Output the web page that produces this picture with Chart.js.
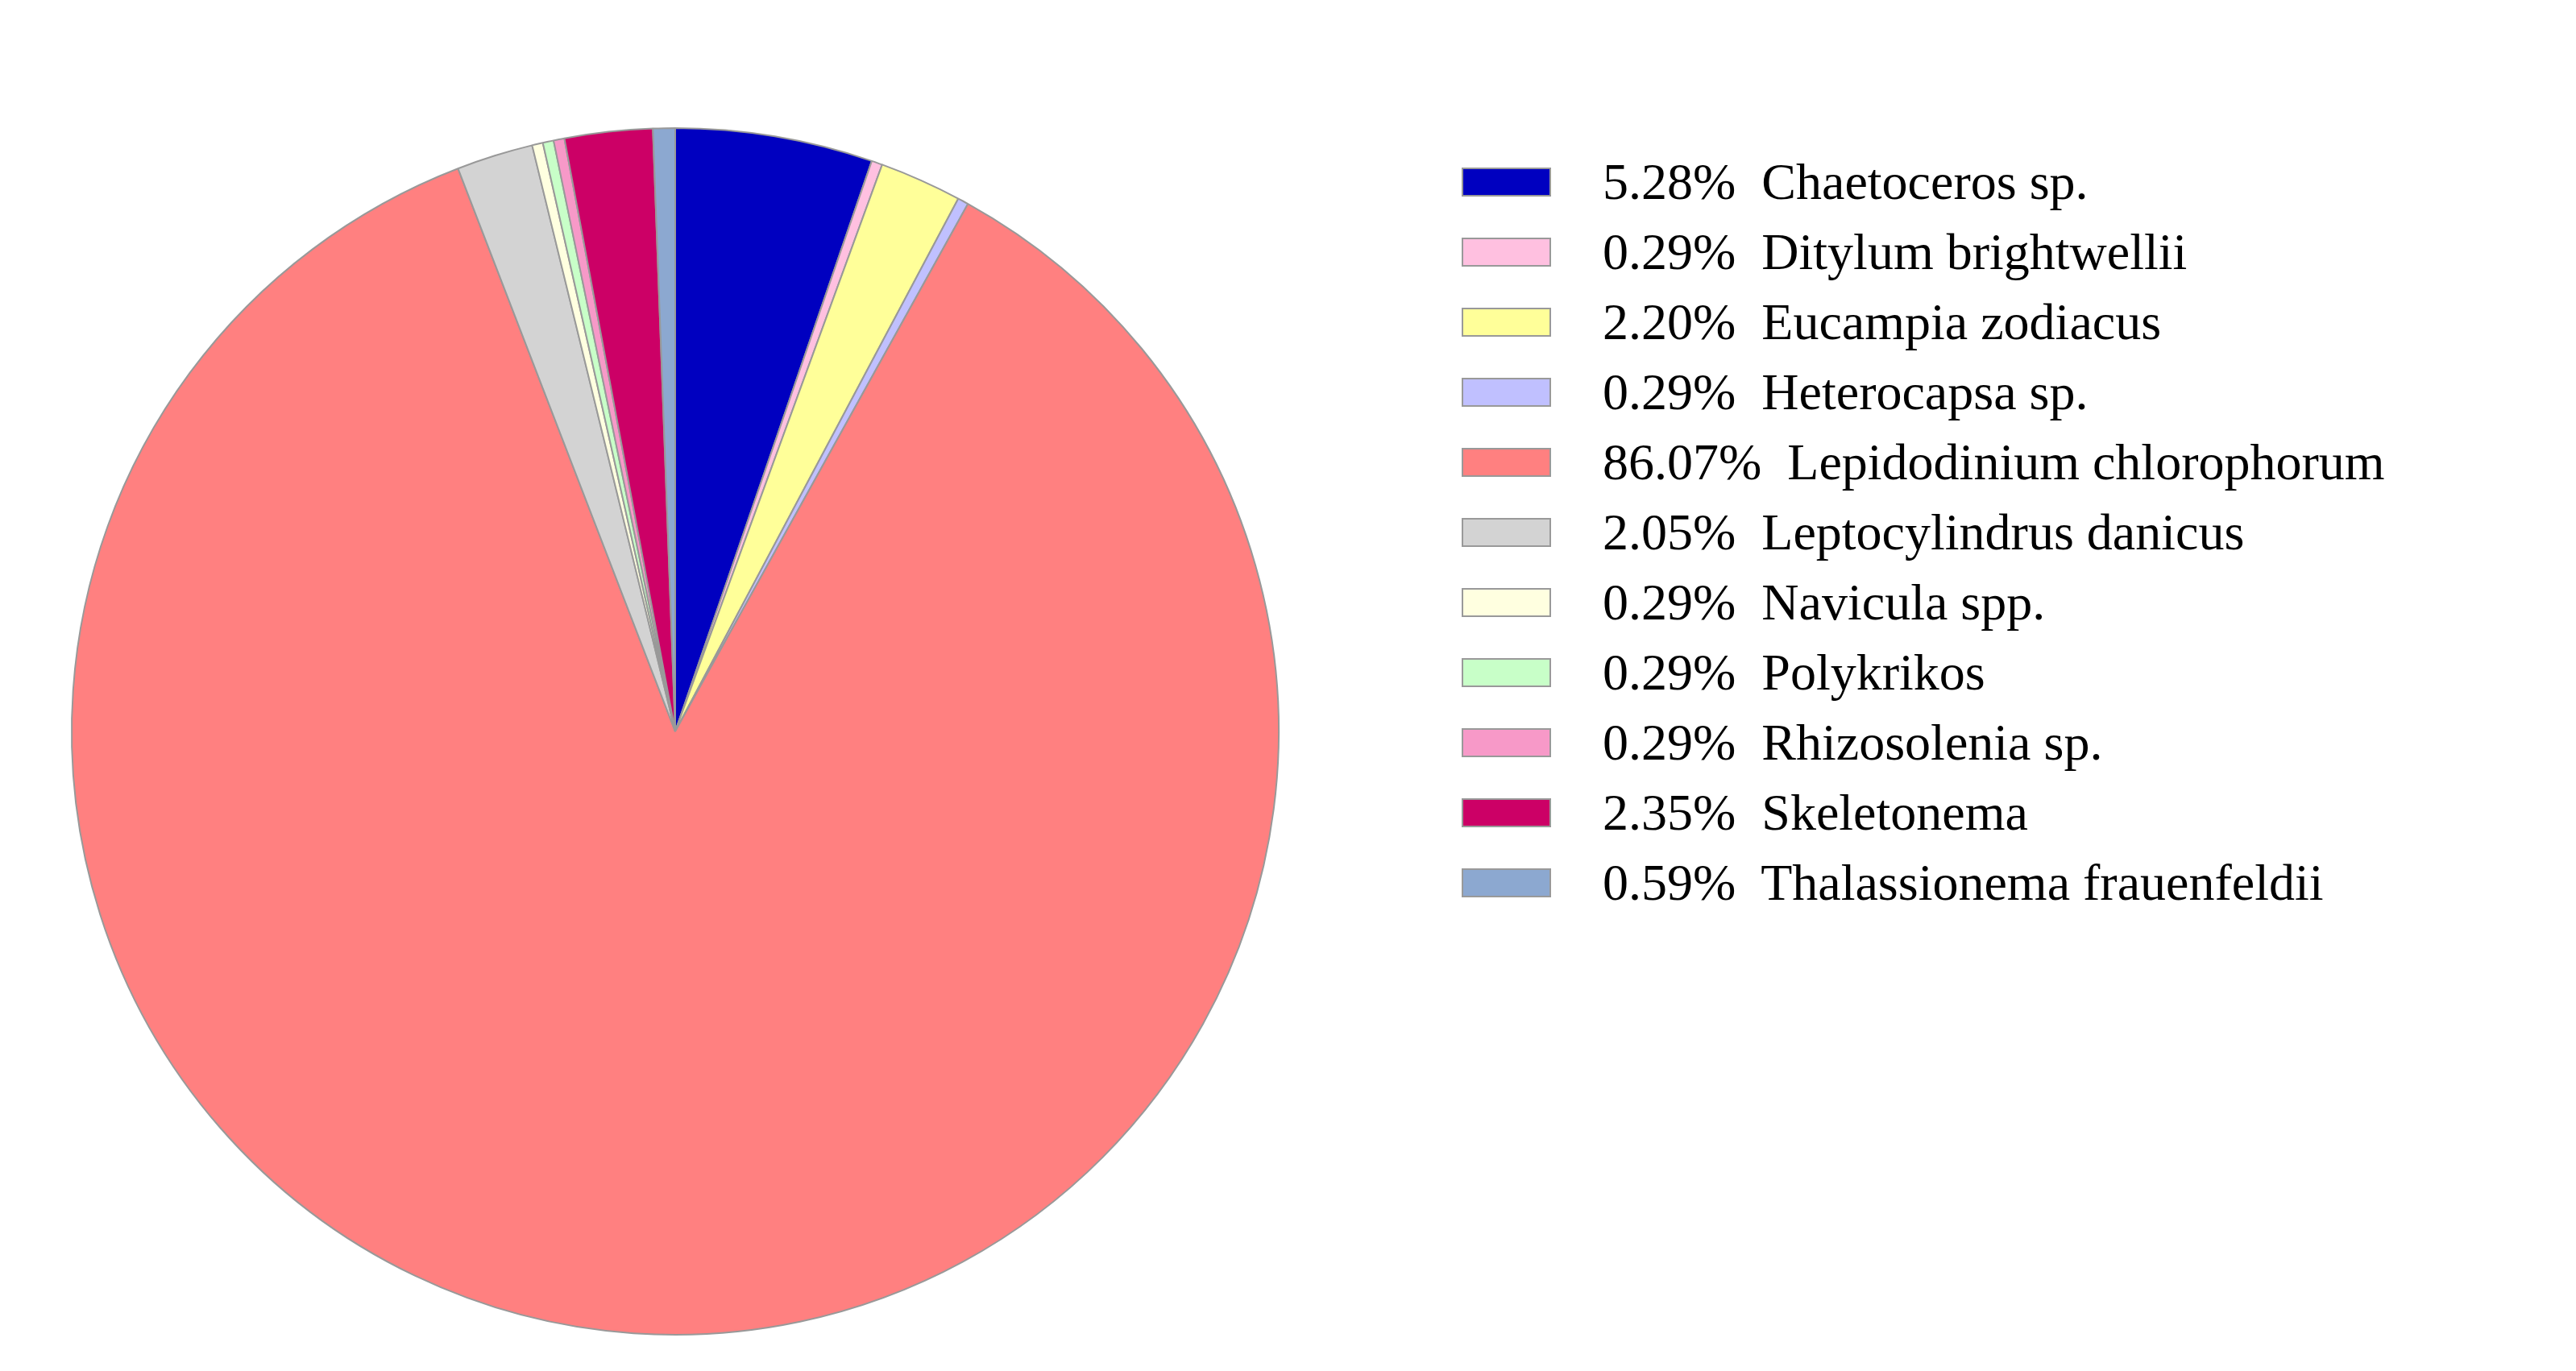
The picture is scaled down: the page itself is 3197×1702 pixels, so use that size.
<!DOCTYPE html>
<html>
<head>
<meta charset="utf-8">
<script src="https://cdn.jsdelivr.net/npm/chart.js@4"></script>
<style>
  body { margin: 0; background: #fff; width: 3197px; height: 1702px; overflow: hidden; position: relative; }
  #wrap { position: absolute; left: 0; top: 0; width: 1676px; height: 1702px; }
  #legend { position: absolute; left: 1814px; top: 182px; font-family: "Liberation Serif", serif; font-size: 64px; color: #000; }
  .row { height: 87px; display: flex; align-items: center; white-space: pre; }
  .box { width: 111px; height: 36px; border: 2px solid #999; margin-right: 64px; box-sizing: border-box; }
</style>
</head>
<body>
<div id="wrap"><canvas id="pie" width="1676" height="1702"></canvas></div>
<div id="legend"></div>
<script>
const species = ["Chaetoceros sp.", "Ditylum brightwellii", "Eucampia zodiacus", "Heterocapsa sp.",
  "Lepidodinium chlorophorum", "Leptocylindrus danicus", "Navicula spp.", "Polykrikos",
  "Rhizosolenia sp.", "Skeletonema", "Thalassionema frauenfeldii"];
const percents = [5.28, 0.29, 2.20, 0.29, 86.07, 2.05, 0.29, 0.29, 0.29, 2.35, 0.59];
const colors = ["#0000C0", "#FFC0E0", "#FFFF99", "#C0C0FF", "#FF8080", "#D3D3D3",
  "#FFFFE0", "#C8FFC8", "#F799C8", "#CC0066", "#8CA8D0"];

// legend as html text
const legend = document.getElementById("legend");
species.forEach((name, i) => {
    const row = document.createElement("div");
    row.className = "row";
    row.innerHTML = `<div class="box" style="background:${colors[i]}"></div>${percents[i].toFixed(2)}%  ${name}`;
    legend.appendChild(row);
});

new Chart(document.getElementById("pie"), {
    type: "pie",
    data: {
        labels: species,
        datasets: [{
            data: percents,
            backgroundColor: colors,
            borderColor: "#999999",
            borderWidth: 2
        }]
    },
    options: {
        responsive: false,
        devicePixelRatio: 1,
        animation: false,
        layout: { padding: { top: 158, bottom: 44, left: 88, right: 88 } },
        plugins: {
            legend: { display: false },
            tooltip: { enabled: false }
        }
    }
});
</script>
</body>
</html>
